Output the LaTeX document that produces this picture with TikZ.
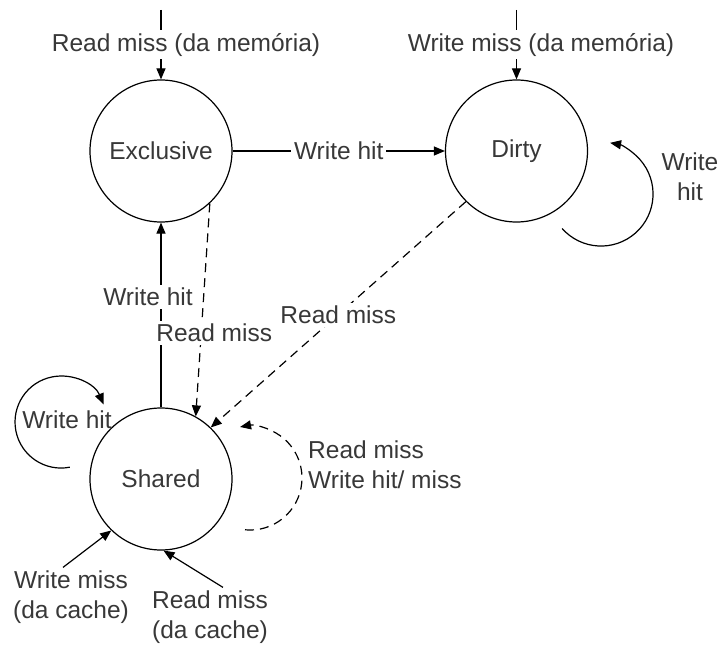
\documentclass[tikz,border=0pt]{standalone}
\usepackage{fontspec}
\setmainfont{Liberation Sans}
\usetikzlibrary{arrows.meta}
\begin{document}
\begin{tikzpicture}[x=1pt,y=-1pt,
  txt/.style={font=\fontsize{24.5}{30}\selectfont, text=black!78},
  state/.style={draw, circle, minimum size=142pt, inner sep=0pt, line width=1.2pt, txt},
  lbl/.style={txt, inner sep=3pt},
  onwire/.style={lbl, fill=white},
  link/.style={line width=1.2pt, -{Triangle[length=11pt,width=9pt]}},
  dashlink/.style={link, dash pattern=on 9pt off 6pt}
]
\useasboundingbox (0,0) rectangle (720,647);

% states
\node[state] (excl)   at (161,151)   {Exclusive};
\node[state] (dirty)  at (516.5,151) {Dirty};
\node[state] (shared) at (161,479)   {Shared};

% entries from memory
\coordinate (inE) at (161,10);
\coordinate (inD) at (516.5,10);
\draw[link] (inE) -- node[onwire, xshift=25pt] {Read miss (da memória)} (excl.north);
\draw[link] (inD) -- node[onwire, xshift=24.5pt] {Write miss (da memória)} (dirty.north);

% transitions between states
\draw[link] (excl.east) -- node[onwire] {Write hit} (dirty.west);
\draw[link] (shared.north) -- node[onwire, pos=0.6, xshift=-13pt] {Write hit} (excl.south);
\draw[dashlink] (excl.-47) -- node[onwire, pos=0.607, xshift=13pt] {Read miss} (shared.61);
\draw[dashlink] (dirty.225) -- node[onwire] {Read miss} (shared.46);

% self loops
\coordinate (dloop) at (562.1,228.5);
\draw[link] (dloop) arc[start angle=138.5, end angle=-80, radius=52];
\node[lbl, align=center] (dloopl) at (690,177) {Write\\hit};

\coordinate (sloopL) at (69.8,467.2);
\draw[link] (sloopL) arc[start angle=79, end angle=337.5, radius=46];
\node[lbl] (sloopLl) at (67,420) {Write hit};

\coordinate (sloopR) at (245,529.8);
\draw[dashlink] (sloopR) arc[start angle=95.5, end angle=-101, radius=52];
\node[lbl, anchor=west, align=left] (sloopRl) at (305,465) {Read miss\\Write hit/ miss};

% entries from other caches
\node[lbl, align=center] (wmc) at (71,597) {Write miss\\(da cache)};
\node[lbl, align=center] (rmc) at (210,617) {Read miss\\(da cache)};
\draw[link] ([xshift=-8pt]wmc.north) -- (shared.226);
\draw[link] ([xshift=13pt]rmc.north) -- (shared.272);
\end{tikzpicture}
\end{document}
